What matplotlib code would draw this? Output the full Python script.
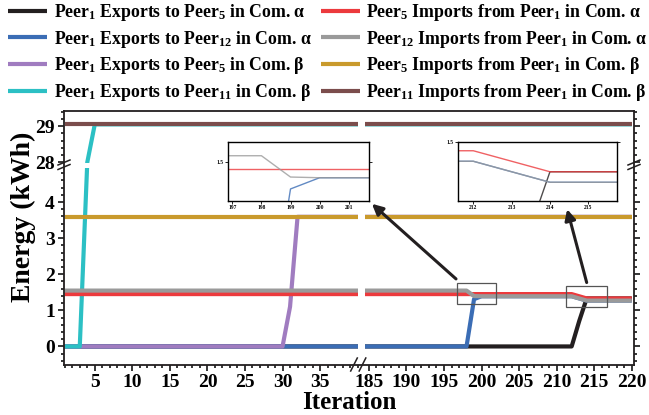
import numpy as np
import matplotlib
matplotlib.use('Agg')
import matplotlib.pyplot as plt
from matplotlib.lines import Line2D
from matplotlib.patches import Rectangle
from matplotlib.ticker import FixedLocator, NullFormatter

plt.rcParams['font.family'] = 'Liberation Serif'
plt.rcParams['font.weight'] = 'bold'
plt.rcParams['axes.labelweight'] = 'bold'
plt.rcParams['mathtext.fontset'] = 'custom'
plt.rcParams['mathtext.rm'] = 'Liberation Serif:bold'
plt.rcParams['mathtext.it'] = 'Liberation Serif:italic:bold'
plt.rcParams['mathtext.bf'] = 'Liberation Serif:bold'
plt.rcParams['mathtext.default'] = 'rm'

# energy traded per iteration (breakpoints of each trajectory), kWh
exp_1_5_a_it = [1, 212, 213, 214, 220]
exp_1_5_a_kwh = [0, 0, 0.70, 1.33, 1.33]
exp_1_12_a_it = [1, 198, 199, 200, 212, 214, 220]
exp_1_12_a_kwh = [0, 0, 1.31, 1.39, 1.39, 1.27, 1.27]
exp_1_5_b_it = [1, 30, 31, 32, 220]
exp_1_5_b_kwh = [0, 0, 1.10, 3.59, 3.59]
exp_1_11_b_it = [1, 3, 4, 5, 220]
exp_1_11_b_kwh = [0, 0, 28.0, 29.05, 29.05]
imp_5_1_a_it = [1, 212, 214, 220]
imp_5_1_a_kwh = [1.45, 1.45, 1.33, 1.33]
imp_12_1_a_it = [1, 198, 199, 200, 212, 214, 220]
imp_12_1_a_kwh = [1.547, 1.547, 1.395, 1.39, 1.39, 1.27, 1.27]
imp_5_1_b_it = [1, 220]
imp_5_1_b_kwh = [3.59, 3.59]
imp_11_1_b_it = [1, 220]
imp_11_1_b_kwh = [29.05, 29.05]

labels = [
    r'Peer$_1$ Exports to Peer$_5$ in Com. α',
    r'Peer$_1$ Exports to Peer$_{12}$ in Com. α',
    r'Peer$_1$ Exports to Peer$_5$ in Com. β',
    r'Peer$_1$ Exports to Peer$_{11}$ in Com. β',
    r'Peer$_5$ Imports from Peer$_1$ in Com. α',
    r'Peer$_{12}$ Imports from Peer$_1$ in Com. α',
    r'Peer$_5$ Imports from Peer$_1$ in Com. β',
    r'Peer$_{11}$ Imports from Peer$_1$ in Com. β',
]
colors = ['#231f20', '#3b6db5', '#a07cc0', '#2cc0c4',
          '#ec3a3d', '#9a9a9a', '#c99a2c', '#7b4d4c']
series = [(exp_1_5_a_it, exp_1_5_a_kwh), (exp_1_12_a_it, exp_1_12_a_kwh),
          (exp_1_5_b_it, exp_1_5_b_kwh), (exp_1_11_b_it, exp_1_11_b_kwh),
          (imp_5_1_a_it, imp_5_1_a_kwh), (imp_12_1_a_it, imp_12_1_a_kwh),
          (imp_5_1_b_it, imp_5_1_b_kwh), (imp_11_1_b_it, imp_11_1_b_kwh)]

x_major = [5, 10, 15, 20, 25, 30, 35, 185, 190, 195, 200, 205, 210, 215, 220]
y_major = [0, 1, 2, 3, 4, 28, 29]


# broken axes: iterations 40..184.5 and energy 5..28 squeezed into thin bands
def fwd_x(x):
    x = np.asarray(x, float)
    return np.where(x <= 40, x, np.where(x >= 184.5, x - 143.5, 40 + (x - 40) / 144.5))


def inv_x(u):
    u = np.asarray(u, float)
    return np.where(u <= 40, u, np.where(u >= 41, u + 143.5, 40 + (u - 40) * 144.5))


def fwd_y(y):
    y = np.asarray(y, float)
    return np.where(y <= 5, y, np.where(y >= 28, y - 22.9, 5 + (y - 5) * 0.1 / 23))


def inv_y(v):
    v = np.asarray(v, float)
    return np.where(v <= 5, v, np.where(v >= 5.1, v + 22.9, 5 + (v - 5) * 230))


W, H = 649, 415
fig = plt.figure(figsize=(W / 100, H / 100), dpi=100)


def fig_box(x0, y0, x1, y1):
    return [x0 / W, 1 - y1 / H, (x1 - x0) / W, (y1 - y0) / H]


def fig_line(xs, ys, lw=1.0):
    fig.add_artist(Line2D([x / W for x in xs], [1 - y / H for y in ys],
                          color='#231f20', lw=lw, transform=fig.transFigure))


ax = fig.add_axes(fig_box(64, 111, 634, 364.5))
ax.set_xscale('function', functions=(fwd_x, inv_x))
ax.set_yscale('function', functions=(fwd_y, inv_y))

handles = []
for (it, kwh), c, lab in zip(series, colors, labels):
    ln, = ax.plot(it, kwh, color=c, lw=3, label=lab, solid_capstyle='butt', zorder=2)
    handles.append(ln)

ax.set_xlim(0.9, 220.3)
ax.set_ylim(-0.5, 29.42)

# white gaps where the axes are broken
ax.axvspan(40, 184.5, color='white', lw=0, zorder=2.3)
ax.axhspan(4.95, 23.4, color='white', lw=0, zorder=2.3)

ax.xaxis.set_major_locator(FixedLocator(x_major))
ax.xaxis.set_minor_locator(FixedLocator(
    [i for i in list(range(1, 41)) + list(range(185, 221)) if i not in x_major]))
ax.yaxis.set_major_locator(FixedLocator(y_major))
ax.yaxis.set_minor_locator(FixedLocator(
    [round(v, 1) for v in np.arange(-0.4, 4.9, 0.2)] + [28.2, 28.4, 28.6, 28.8, 29.2, 29.4]))
ax.xaxis.set_major_formatter(plt.FuncFormatter(lambda v, p: f'{v:.0f}'))
ax.yaxis.set_major_formatter(plt.FuncFormatter(lambda v, p: f'{v:.0f}'))
ax.xaxis.set_minor_formatter(NullFormatter())
ax.yaxis.set_minor_formatter(NullFormatter())
ax.tick_params(which='both', direction='out', right=True, top=False,
               labelright=False, width=1.1, labelsize=14, pad=2)
ax.tick_params(which='major', length=4.5)
ax.tick_params(which='minor', length=2.5)
for s in ax.spines.values():
    s.set_linewidth(1.3)
    s.set_color('#231f20')
ax.set_xlabel('Iteration', fontsize=18, fontweight='bold', labelpad=0)

fig.text(23 / W, 1 - 217 / H, 'Energy (kWh)', rotation=90, ha='center', va='center',
         fontsize=20, fontweight='bold')

# zoom boxes and arrows to the insets
ax.add_patch(Rectangle((196.7, 1.17), 5.2, 0.58, fill=False, ec='#555555', lw=0.9, zorder=3))
ax.add_patch(Rectangle((211.2, 1.09), 5.5, 0.59, fill=False, ec='#555555', lw=0.9, zorder=3))
arrow = dict(arrowstyle='-|>', color='#231f20', lw=2.2, mutation_scale=16, shrinkA=0, shrinkB=0)
ax.annotate('', xy=(185.4, 3.95), xytext=(196.6, 1.87), arrowprops=arrow, zorder=4)
ax.annotate('', xy=(211.4, 3.80), xytext=(214.0, 1.77), arrowprops=arrow, zorder=4)

# break marks
for cx in (354, 362.5):
    fig_line([cx - 3.3, cx + 3.3], [371, 358], lw=1.1)
for cx in (64, 634):
    for cy in (162.5, 167):
        fig_line([cx - 6, cx + 6], [cy + 2.5, cy - 2.5], lw=1.1)

# insets
insets = [
    (fig_box(228, 142, 369, 201), (196.85, 201.7), (1.224, 1.645), [197, 198, 199, 200, 201]),
    (fig_box(458, 142, 617, 201), (211.6, 215.75), (1.163, 1.5), [212, 213, 214, 215]),
]
for box, xl, yl, xt in insets:
    ia = fig.add_axes(box)
    for k in (0, 1, 4, 5):
        it, kwh = series[k]
        ia.plot(it, kwh, color=colors[k], lw=1.0, alpha=0.8)
    ia.set_xlim(*xl)
    ia.set_ylim(*yl)
    ia.set_xticks(xt)
    ia.set_yticks([1.5])
    ia.tick_params(direction='out', right=True, labelsize=4, length=2, width=0.6, pad=1)
    for s in ia.spines.values():
        s.set_linewidth(1.0)

# legend: exports in the left column, imports in the right column
leg_kw = dict(loc='upper left', frameon=False, fontsize=12.8, handlelength=2.2,
              handletextpad=0.35, labelspacing=0.32, borderpad=0, borderaxespad=0)
fig.legend(handles=handles[:4], labels=labels[:4],
           bbox_to_anchor=(8.3 / W, 1 - 2 / H), **leg_kw)
fig.legend(handles=handles[4:], labels=labels[4:],
           bbox_to_anchor=(320.8 / W, 1 - 2 / H), **leg_kw)

fig.savefig('out.png', dpi=100)
